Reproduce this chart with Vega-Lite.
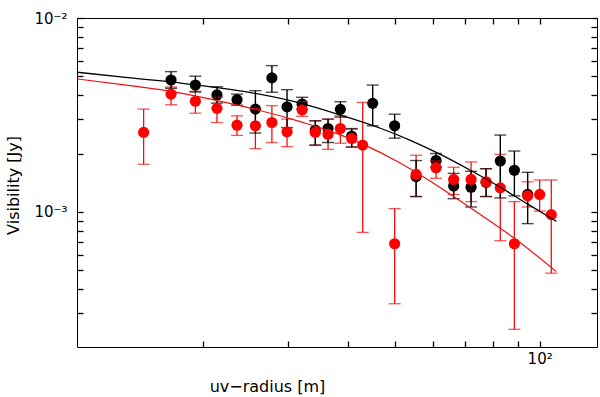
{
  "$schema": "https://vega.github.io/schema/vega-lite/v6.json",
  "width": 520,
  "height": 329,
  "autosize": "none",
  "padding": {"left": 77, "top": 18, "right": 3, "bottom": 50},
  "background": "white",
  "config": {
    "view": {"stroke": "black", "strokeWidth": 1},
    "axis": {
      "labelFont": "DejaVu Sans", "labelFontSize": 15, "labelColor": "black",
      "titleFont": "DejaVu Sans", "titleFontSize": 16, "titleFontWeight": "normal", "titleColor": "black",
      "tickColor": "black", "tickWidth": 1.3, "grid": false, "domain": false,
      "labelFlush": false, "labelOverlap": false, "labelBound": false
    }
  },
  "datasets": {
    "black": [
      {"r": 17.19, "v": 0.00479, "lo": 0.00434, "hi": 0.00529},
      {"r": 19.31, "v": 0.00451, "lo": 0.00415, "hi": 0.00501},
      {"r": 21.41, "v": 0.00401, "lo": 0.00364, "hi": 0.00442},
      {"r": 23.56, "v": 0.00379, "lo": 0.00355, "hi": 0.00405},
      {"r": 25.72, "v": 0.00339, "lo": 0.00255, "hi": 0.00422},
      {"r": 27.83, "v": 0.00491, "lo": 0.00414, "hi": 0.00568},
      {"r": 29.92, "v": 0.00348, "lo": 0.00272, "hi": 0.00427},
      {"r": 32.15, "v": 0.00360, "lo": 0.00339, "hi": 0.00390},
      {"r": 34.24, "v": 0.00264, "lo": 0.00221, "hi": 0.00295},
      {"r": 36.39, "v": 0.00269, "lo": 0.00228, "hi": 0.00301},
      {"r": 38.60, "v": 0.00338, "lo": 0.00308, "hi": 0.00370},
      {"r": 40.74, "v": 0.00246, "lo": 0.00216, "hi": 0.00269},
      {"r": 45.04, "v": 0.00363, "lo": 0.00278, "hi": 0.00451},
      {"r": 50.02, "v": 0.00278, "lo": 0.00240, "hi": 0.00319},
      {"r": 55.42, "v": 0.00152, "lo": 0.00120, "hi": 0.00184},
      {"r": 60.96, "v": 0.00184, "lo": 0.00170, "hi": 0.00200},
      {"r": 66.31, "v": 0.00136, "lo": 0.00117, "hi": 0.00158},
      {"r": 72.06, "v": 0.00134, "lo": 0.00106, "hi": 0.00162},
      {"r": 77.41, "v": 0.00142, "lo": 0.00120, "hi": 0.00167},
      {"r": 82.86, "v": 0.00183, "lo": 0.00118, "hi": 0.00249},
      {"r": 88.62, "v": 0.00164, "lo": 0.00121, "hi": 0.00206},
      {"r": 94.43, "v": 0.00123, "lo": 0.00087, "hi": 0.00160}
    ],
    "red": [
      {"r": 15.08, "v": 0.00257, "lo": 0.00176, "hi": 0.00339},
      {"r": 17.19, "v": 0.00405, "lo": 0.00357, "hi": 0.00441},
      {"r": 19.31, "v": 0.00372, "lo": 0.00323, "hi": 0.00419},
      {"r": 21.41, "v": 0.00342, "lo": 0.00289, "hi": 0.00390},
      {"r": 23.56, "v": 0.00280, "lo": 0.00248, "hi": 0.00313},
      {"r": 25.72, "v": 0.00278, "lo": 0.00212, "hi": 0.00342},
      {"r": 27.83, "v": 0.00289, "lo": 0.00228, "hi": 0.00353},
      {"r": 29.92, "v": 0.00259, "lo": 0.00217, "hi": 0.00301},
      {"r": 32.15, "v": 0.00336, "lo": 0.00311, "hi": 0.00370},
      {"r": 34.24, "v": 0.00257, "lo": 0.00221, "hi": 0.00295},
      {"r": 36.39, "v": 0.00251, "lo": 0.00210, "hi": 0.00301},
      {"r": 38.60, "v": 0.00269, "lo": 0.00226, "hi": 0.00313},
      {"r": 40.74, "v": 0.00239, "lo": 0.00216, "hi": 0.00267},
      {"r": 42.94, "v": 0.00221, "lo": 0.000784, "hi": 0.00367},
      {"r": 50.02, "v": 0.000685, "lo": 0.000336, "hi": 0.00104},
      {"r": 55.42, "v": 0.00156, "lo": 0.00120, "hi": 0.00196},
      {"r": 60.96, "v": 0.00169, "lo": 0.00149, "hi": 0.00183},
      {"r": 66.31, "v": 0.00147, "lo": 0.00123, "hi": 0.00170},
      {"r": 72.06, "v": 0.00147, "lo": 0.00113, "hi": 0.00181},
      {"r": 77.41, "v": 0.00143, "lo": 0.00120, "hi": 0.00167},
      {"r": 82.86, "v": 0.00133, "lo": 0.000710, "hi": 0.00198},
      {"r": 88.62, "v": 0.000685, "lo": 0.000248, "hi": 0.00113},
      {"r": 94.43, "v": 0.00121, "lo": 0.00106, "hi": 0.00143},
      {"r": 100.0, "v": 0.00123, "lo": 0.00101, "hi": 0.00146},
      {"r": 105.7, "v": 0.000968, "lo": 0.000483, "hi": 0.00146}
    ],
    "blackLine": [
      {"r": 10.99, "v": 0.00525}, {"r": 14.15, "v": 0.00491}, {"r": 17.54, "v": 0.00465},
      {"r": 24.51, "v": 0.00417}, {"r": 31.88, "v": 0.00364}, {"r": 38.60, "v": 0.00316},
      {"r": 46.72, "v": 0.00270}, {"r": 53.91, "v": 0.00234}, {"r": 62.23, "v": 0.00198},
      {"r": 71.81, "v": 0.00164}, {"r": 82.86, "v": 0.00134}, {"r": 94.30, "v": 0.00110},
      {"r": 108.3, "v": 0.000894}
    ],
    "redLine": [
      {"r": 10.99, "v": 0.00485}, {"r": 14.15, "v": 0.00448}, {"r": 17.13, "v": 0.00420},
      {"r": 21.44, "v": 0.00375}, {"r": 25.11, "v": 0.00343}, {"r": 31.88, "v": 0.00292},
      {"r": 36.80, "v": 0.00261}, {"r": 43.08, "v": 0.00223}, {"r": 50.67, "v": 0.00182},
      {"r": 59.33, "v": 0.00144}, {"r": 71.81, "v": 0.00105}, {"r": 82.86, "v": 0.000824},
      {"r": 88.62, "v": 0.000731}, {"r": 108.3, "v": 0.000492}
    ]
  },
  "resolve": {"axis": {"x": "independent", "y": "independent"}},
  "layer": [
    {
      "data": {"name": "black"},
      "mark": {"type": "circle", "size": 125, "opacity": 1, "color": "black"},
      "encoding": {
        "x": {"field": "r", "type": "quantitative", "scale": {"type": "log", "domain": [10.97, 131.5], "nice": false},
              "axis": {"orient": "bottom", "values": [100], "labelExpr": "'10²'", "ticks": false, "labelPadding": 4,
                       "title": "uv−radius [m]", "titleX": 190, "titleY": 44, "titleAlign": "center", "titleBaseline": "alphabetic"}},
        "y": {"field": "v", "type": "quantitative", "scale": {"type": "log", "domain": [0.000201, 0.01], "nice": false},
              "axis": {"orient": "left", "values": [0.001, 0.01], "labelExpr": "datum.value > 0.005 ? '10⁻²' : '10⁻³'", "ticks": false, "labelPadding": 10,
                       "title": "Visibility [Jy]", "titleX": -64, "titleY": 167, "titleAngle": -90, "titleAlign": "center", "titleBaseline": "middle"}}
      }
    },
    {
      "data": {"name": "red"},
      "mark": {"type": "rule", "color": "#f01010", "strokeWidth": 1.3},
      "encoding": {
        "x": {"field": "r", "type": "quantitative",
              "axis": {"orient": "bottom", "values": [20, 30, 40, 50, 60, 70, 80, 90, 100], "labels": false, "ticks": true, "tickSize": 6, "offset": -6, "title": null}},
        "y": {"field": "lo", "type": "quantitative",
              "axis": {"orient": "left", "values": [0.0002, 0.0003, 0.0004, 0.0005, 0.0006, 0.0007, 0.0008, 0.0009, 0.001, 0.002, 0.003, 0.004, 0.005, 0.006, 0.007, 0.008, 0.009, 0.01],
                       "labels": false, "ticks": true, "tickSize": -6, "title": null}},
        "y2": {"field": "hi"}
      }
    },
    {
      "data": {"name": "red"},
      "mark": {"type": "tick", "orient": "horizontal", "size": 12, "thickness": 1.3, "color": "#f01010"},
      "encoding": {
        "x": {"field": "r", "type": "quantitative",
              "axis": {"orient": "top", "values": [20, 30, 40, 50, 60, 70, 80, 90, 100], "labels": false, "ticks": true, "tickSize": 6, "offset": -6, "title": null}},
        "y": {"field": "lo", "type": "quantitative",
              "axis": {"orient": "right", "values": [0.0002, 0.0003, 0.0004, 0.0005, 0.0006, 0.0007, 0.0008, 0.0009, 0.001, 0.002, 0.003, 0.004, 0.005, 0.006, 0.007, 0.008, 0.009, 0.01],
                       "labels": false, "ticks": true, "tickSize": 6, "offset": -6, "title": null}}
      }
    },
    {
      "data": {"name": "red"},
      "mark": {"type": "tick", "orient": "horizontal", "size": 12, "thickness": 1.3, "color": "#f01010"},
      "encoding": {
        "x": {"field": "r", "type": "quantitative", "axis": null},
        "y": {"field": "hi", "type": "quantitative", "axis": null}
      }
    },
    {
      "data": {"name": "black"},
      "mark": {"type": "rule", "color": "black", "strokeWidth": 1.4},
      "encoding": {
        "x": {"field": "r", "type": "quantitative", "axis": null},
        "y": {"field": "lo", "type": "quantitative", "axis": null},
        "y2": {"field": "hi"}
      }
    },
    {
      "data": {"name": "black"},
      "mark": {"type": "tick", "orient": "horizontal", "size": 12, "thickness": 1.4, "color": "black"},
      "encoding": {
        "x": {"field": "r", "type": "quantitative", "axis": null},
        "y": {"field": "lo", "type": "quantitative", "axis": null}
      }
    },
    {
      "data": {"name": "black"},
      "mark": {"type": "tick", "orient": "horizontal", "size": 12, "thickness": 1.4, "color": "black"},
      "encoding": {
        "x": {"field": "r", "type": "quantitative", "axis": null},
        "y": {"field": "hi", "type": "quantitative", "axis": null}
      }
    },
    {
      "data": {"name": "red"},
      "mark": {"type": "circle", "size": 125, "opacity": 1, "color": "#ff0000"},
      "encoding": {
        "x": {"field": "r", "type": "quantitative", "axis": null},
        "y": {"field": "v", "type": "quantitative", "axis": null}
      }
    },
    {
      "data": {"name": "blackLine"},
      "mark": {"type": "line", "color": "black", "strokeWidth": 1.3, "interpolate": "monotone", "clip": true},
      "encoding": {
        "x": {"field": "r", "type": "quantitative", "axis": null},
        "y": {"field": "v", "type": "quantitative", "axis": null}
      }
    },
    {
      "data": {"name": "redLine"},
      "mark": {"type": "line", "color": "#f01010", "strokeWidth": 1.2, "interpolate": "monotone", "clip": true},
      "encoding": {
        "x": {"field": "r", "type": "quantitative", "axis": null},
        "y": {"field": "v", "type": "quantitative", "axis": null}
      }
    }
  ]
}
